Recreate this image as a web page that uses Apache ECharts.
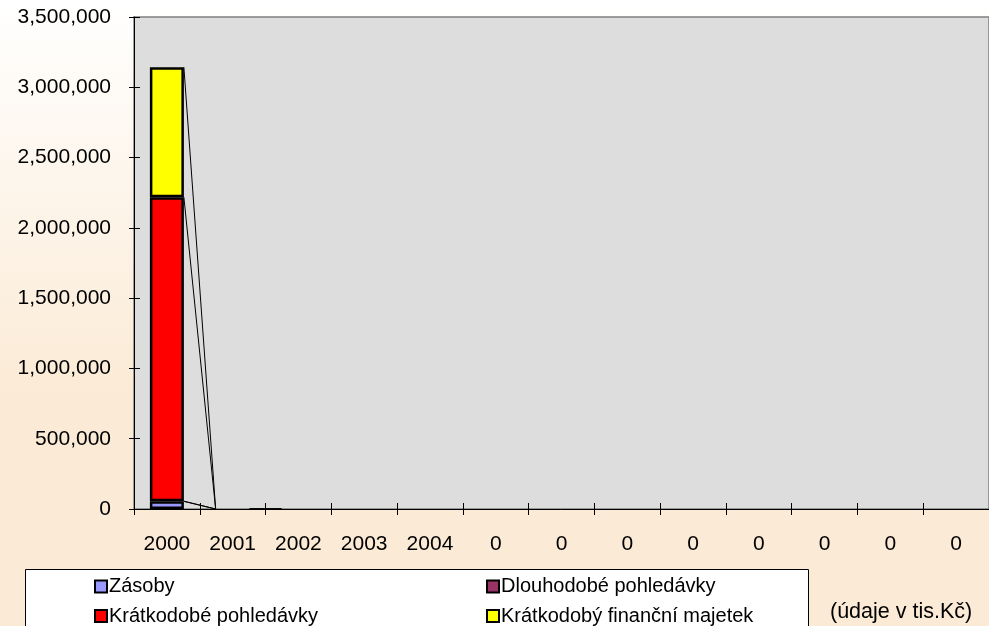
<!DOCTYPE html>
<html><head><meta charset="utf-8">
<script src="https://cdn.jsdelivr.net/npm/echarts@6/dist/echarts.min.js"></script>
<style>html,body{margin:0;padding:0;overflow:hidden}#c{width:989px;height:626px}</style>
</head><body><div id="c"></div>
<script>
var categories = ['2000','2001','2002','2003','2004','0','0','0','0','0','0','0','0'];
var seriesNames = ['Zásoby','Dlouhodobé pohledávky','Krátkodobé pohledávky','Krátkodobý finanční majetek'];
var zasoby = [55000, 0, 0, null, null, null, null, null, null, null, null, null, null];
var dlouhodobe = [0, 0, 0, null, null, null, null, null, null, null, null, null, null];
var kratkodobePohl = [2163000, 0, 0, null, null, null, null, null, null, null, null, null, null];
var kratkodobyFin = [925000, 0, 0, null, null, null, null, null, null, null, null, null, null];
var yTicks = [0, 500000, 1000000, 1500000, 2000000, 2500000, 3000000, 3500000];
var colors = ['#9999FF', '#993366', '#FF0000', '#FFFF00'];

var all = [zasoby, dlouhodobe, kratkodobePohl, kratkodobyFin];
var BAR_W = 34;
var FONT = 'Liberation Sans, Arial, sans-serif';

function cum(i, k) {
  var s = 0;
  for (var j = 0; j <= k; j++) s += (all[j][i] || 0);
  return s;
}
var lineData = [];
for (var i = 0; i < categories.length - 1; i++) {
  if (zasoby[i] != null && zasoby[i + 1] != null) lineData.push([i, cum(i, all.length - 1)]);
}

var chart = echarts.init(document.getElementById('c'));
var barSeries = all.map(function (arr, k) {
  return {
    name: seriesNames[k], type: 'bar', stack: 'a', barWidth: BAR_W,
    xAxisIndex: 0, yAxisIndex: 0,
    data: arr.map(function (v) { return v === 0 ? null : v; }),
    itemStyle: { color: colors[k], borderColor: '#000', borderWidth: 2.5 },
    emphasis: { disabled: true }, z: 3
  };
});
var fmt = function (v) { return Number(v).toLocaleString('en-US'); };

var legends = [
  { name: seriesNames[0], left: 94, top: 576.5 },
  { name: seriesNames[1], left: 486, top: 576.5 },
  { name: seriesNames[2], left: 94, top: 606 },
  { name: seriesNames[3], left: 486, top: 606 }
].map(function (l) {
  return {
    data: [l.name], left: l.left, top: l.top, padding: 0, itemWidth: 12, itemHeight: 12,
    icon: 'rect', selectedMode: false,
    itemStyle: { borderColor: '#000', borderWidth: 2 },
    textStyle: { fontFamily: FONT, fontSize: 20, color: '#000', padding: [0, 0, 0, -3] }
  };
});

var gridRect = { left: 134, top: 17, width: 860, height: 492 };
var yMin = yTicks[0], yMax = yTicks[yTicks.length - 1], yStep = yTicks[1] - yTicks[0];

chart.setOption({
  animation: false,
  backgroundColor: { type: 'linear', x: 0, y: 0, x2: 0, y2: 1,
    colorStops: [{ offset: 0, color: '#FFFFFF' }, { offset: 0.62, color: '#FBEBD6' }, { offset: 1, color: '#FBEAD5' }] },
  grid: [
    Object.assign({ show: true, backgroundColor: '#DDDDDD', borderColor: '#808080', borderWidth: 1.5 }, gridRect),
    Object.assign({ show: false }, gridRect)
  ],
  legend: legends,
  graphic: [{ type: 'rect', shape: { x: 25.5, y: 569.5, width: 783, height: 80 },
    style: { fill: '#FFFFFF', stroke: '#000', lineWidth: 1 }, z: 1 },
    { type: 'text', left: 830, top: 601, style: { text: '(údaje v tis.Kč)', fontFamily: FONT, fontSize: 21.5, fill: '#000' } }],
  xAxis: [{
    type: 'category', data: categories, position: 'bottom', gridIndex: 0,
    axisLine: { show: true, lineStyle: { color: '#000', width: 1 } },
    axisTick: { show: true, interval: 0, length: 6, lineStyle: { color: '#000', width: 1 } },
    axisLabel: { fontFamily: FONT, fontSize: 21, color: '#000', margin: 25, interval: 0 },
    splitLine: { show: false }
  }, {
    type: 'category', data: categories, position: 'bottom', gridIndex: 1,
    axisLine: { show: false }, axisTick: { show: true, interval: 0, inside: true, length: 6, lineStyle: { color: '#000', width: 1 } },
    axisLabel: { show: false }, splitLine: { show: false }
  }],
  yAxis: [{
    type: 'value', min: yMin, max: yMax, interval: yStep, position: 'left', gridIndex: 0,
    axisLine: { show: true, lineStyle: { color: '#000', width: 1 } },
    axisTick: { show: true, length: 5, lineStyle: { color: '#000' } },
    axisLabel: { fontFamily: FONT, fontSize: 21, color: '#000', margin: 23, formatter: fmt },
    splitLine: { show: false }
  }, {
    type: 'value', min: yMin, max: yMax, interval: yStep, position: 'left', gridIndex: 1,
    axisLine: { show: false }, axisTick: { show: true, inside: true, length: 6, lineStyle: { color: '#000' } },
    axisLabel: { show: false }, splitLine: { show: false }
  }],
  series: barSeries.concat([{
    type: 'custom', data: lineData, z: 4, silent: true,
    xAxisIndex: 1, yAxisIndex: 1,
    encode: { x: 0, y: 1 },
    renderItem: function (params, api) {
      var i = api.value(0);
      var children = [];
      for (var k = 0; k < all.length; k++) {
        var p1 = api.coord([i, cum(i, k)]);
        var p2 = api.coord([i + 1, cum(i + 1, k)]);
        children.push({ type: 'line',
          shape: { x1: p1[0] + BAR_W / 2, y1: p1[1], x2: p2[0] - BAR_W / 2, y2: p2[1] },
          style: { stroke: '#000', lineWidth: 1 } });
      }
      return { type: 'group', children: children };
    }
  }])
});
</script></body></html>
